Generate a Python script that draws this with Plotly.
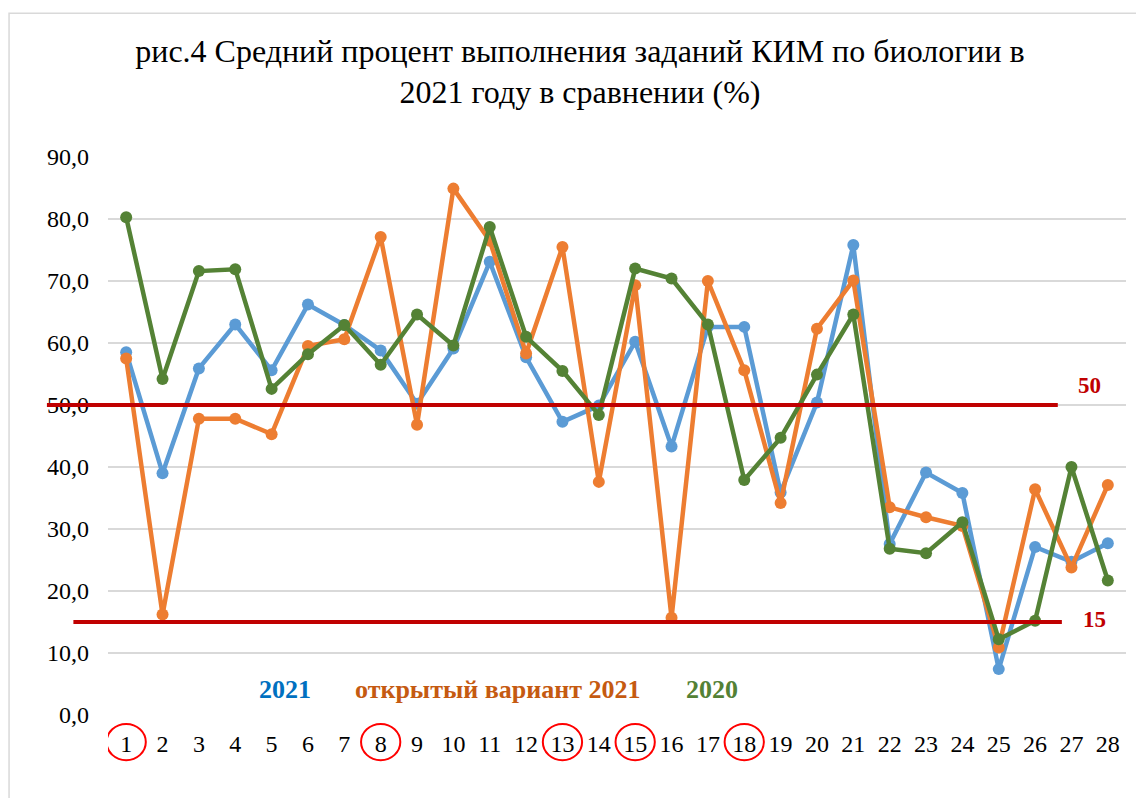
import plotly.graph_objects as go

# ---- data ----
tasks = list(range(1, 29))
s2021 = [58.5, 39.0, 55.9, 63.0, 55.6, 66.2, 62.9, 58.8, 50.2, 59.1, 73.1, 57.7, 47.3, 49.9,
         60.2, 43.3, 62.6, 62.6, 35.9, 50.4, 75.8, 27.6, 39.1, 35.8, 7.4, 27.1, 24.7, 27.7]
s_open2021 = [57.5, 16.2, 47.8, 47.8, 45.3, 59.5, 60.6, 77.1, 46.8, 84.9, 76.5, 58.3, 75.5, 37.6,
              69.3, 15.7, 70.0, 55.6, 34.2, 62.3, 70.1, 33.5, 31.9, 30.5, 10.9, 36.4, 23.8, 37.1]
s2020 = [80.3, 54.2, 71.6, 71.9, 52.6, 58.2, 62.9, 56.5, 64.6, 59.6, 78.7, 61.0, 55.5, 48.4,
         72.0, 70.4, 63.0, 37.9, 44.7, 54.9, 64.6, 26.8, 26.1, 31.1, 12.2, 15.2, 40.0, 21.7]
thresholds = [50, 15]
circled = [1, 8, 13, 15, 18]
y_ticks = [0, 10, 20, 30, 40, 50, 60, 70, 80, 90]

title = "рис.4 Средний процент выполнения заданий КИМ по биологии в<br>2021 году в сравнении (%)"
legend_labels = ["2021", "открытый вариант 2021", "2020"]
legend_colors = ["#0070C0", "#C55A11", "#538135"]
legend_x = [5.36, 11.2, 17.1]

FONT = "Liberation Serif, DejaVu Serif, serif"

fig = go.Figure()
series = [(s2021, "#5B9BD5", "2021"), (s_open2021, "#ED7D31", "открытый вариант 2021"),
          (s2020, "#548235", "2020")]
for vals, col, name in series:
    fig.add_trace(go.Scatter(x=tasks, y=vals, mode="lines+markers", name=name,
                             line=dict(color=col, width=4.5),
                             marker=dict(color=col, size=12), showlegend=False))

# short white patch hiding the right end of the 10 gridline (as in the original)
fig.add_shape(type="rect", xref="paper", yref="y", x0=0.937, x1=1.01, y0=9.7, y1=10.3,
              fillcolor="white", line=dict(width=0), layer="below")

# threshold lines
starts = [-0.060, -0.034]
ends = [0.933, 0.937]
for t, s0, s1 in zip(thresholds, starts, ends):
    fig.add_shape(type="line", xref="paper", yref="y", x0=s0, x1=s1, y0=t, y1=t,
                  line=dict(color="#C00000", width=4), layer="above")
fig.add_annotation(xref="paper", yref="y", x=0.9646, xanchor="center", y=thresholds[0],
                   yshift=20, text="<b>50</b>", showarrow=False,
                   font=dict(family=FONT, size=23, color="#C00000"))
fig.add_annotation(xref="paper", yref="y", x=0.9686, xanchor="center", y=thresholds[1],
                   yshift=3, text="<b>15</b>", showarrow=False,
                   font=dict(family=FONT, size=23, color="#C00000"))

# red circles around some task numbers
for c in circled:
    fig.add_shape(type="circle", xref="x", yref="y domain",
                  x0=c - 0.54, x1=c + 0.54, y0=-0.081, y1=-0.016,
                  line=dict(color="#FF0000", width=2))

# legend-like text
for lab, col, lx in zip(legend_labels, legend_colors, legend_x):
    fig.add_annotation(xref="x", yref="y", x=lx, y=4.1, text=f"<b>{lab}</b>",
                       showarrow=False, font=dict(family=FONT, size=26, color=col))

# outer border
fig.add_shape(type="rect", xref="paper", yref="paper", x0=-0.0972, x1=1.05, y0=-0.3, y1=1.2575,
              line=dict(color="#D9D9D9", width=1.5))

fig.update_layout(
    width=1136, height=790,
    margin=dict(l=100, r=18, t=149, b=83),
    paper_bgcolor="white", plot_bgcolor="white",
    separators=", ",
    title=dict(text=title, x=0.5035, xanchor="center", y=0.932, yanchor="top",
               font=dict(family=FONT, size=32, color="black")),
    font=dict(family=FONT, color="black"),
    xaxis=dict(range=[0.5, 28.5], tickmode="array", tickvals=tasks,
               ticktext=[str(t) for t in tasks], showgrid=False, zeroline=False,
               showline=False, ticks="", tickfont=dict(family=FONT, size=24, color="black"),
               ticklabelstandoff=12),
    yaxis=dict(range=[0, 90], tickvals=y_ticks, tickformat=".1f", showgrid=True,
               gridcolor="#D9D9D9", gridwidth=1.5, zeroline=False, showline=False,
               ticks="", tickfont=dict(family=FONT, size=24, color="black"),
               ticklabelstandoff=18),
)

fig.write_html("out.html")
